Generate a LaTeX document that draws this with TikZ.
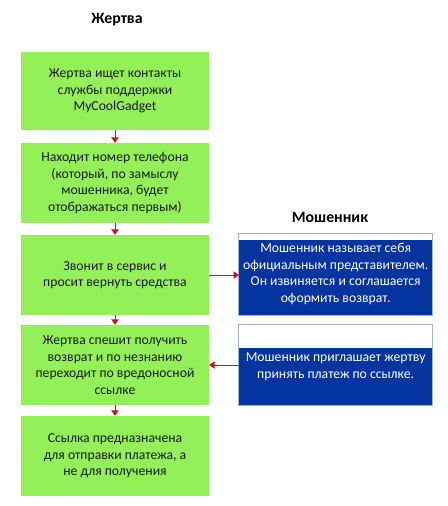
\documentclass[tikz,border=0pt]{standalone}
\usepackage{fontspec}
\setmainfont{Carlito}
\usepackage{tikz}
\usetikzlibrary{arrows.meta,positioning,calc}
\definecolor{vicgreen}{HTML}{94F058}
\definecolor{scamblue}{HTML}{0434A0}
\definecolor{scamrule}{HTML}{9DB4CF}
\definecolor{arrred}{HTML}{D0101E}

\begin{document}
\begin{tikzpicture}[font=\fontsize{11.7}{14.2}\selectfont,
  victim/.style={fill=vicgreen,text=black!90,minimum width=5.64cm,minimum height=2.4cm,
                 align=center,inner sep=2pt},
  scambox/.style={fill=scamblue,minimum width=5.79cm,inner sep=0pt},
  scamband/.style={fill=white,minimum width=5.79cm,inner sep=0pt},
  scamtxt/.style={text=white,align=center,inner sep=1pt},
  frame/.style={draw=scamrule,line width=0.8pt},
  ttl/.style={font=\fontsize{13.5}{16}\selectfont\bfseries,inner sep=1pt},
  w/.style={-{Triangle[length=1.6mm,width=2.2mm]},arrred,line width=0.6pt}]

\useasboundingbox (0,0) rectangle (13.41,-15.18);

% ---------------- victim column --------------------------------------------
\node[ttl] (tv) at (3.51,-0.6) {Жертва};

\node[victim,minimum height=2.34cm] (g1) at (3.45,-2.73)
  {Жертва ищет контакты\\ службы поддержки\\ MyCoolGadget};
\node[victim] (g2) at (3.45,-5.49)
  {Находит номер телефона\\ (который, по замыслу\\ мошенника, будет\\ отображаться первым)};
\node[victim] (g3) at (3.45,-8.25)
  {Звонит в сервис и\\ просит вернуть средства};
\node[victim] (g4) at (3.45,-10.95)
  {Жертва спешит получить\\ возврат и по незнанию\\ переходит по вредоносной\\ ссылке};
\node[victim] (g5) at (3.45,-13.68)
  {Ссылка предназначена\\ для отправки платежа, а\\ не для получения};

\foreach \a/\b in {g1/g2, g2/g3, g3/g4, g4/g5}
  \draw[w] (\a.south) -- (\b.north);

% ---------------- scammer column -------------------------------------------
\node[ttl] (ts) at (9.9,-6.51) {Мошенник};

\node[scambox,minimum height=2.25cm] (s1) at (10.07,-8.325) {};
\node[scamband,minimum height=0.18cm,anchor=south] (s1top) at (s1.north) {};
\draw[frame] (s1top.north west) rectangle (s1.south east);
\node[scamtxt] (s1txt) at (10.07,-8.22)
  {Мошенник называет себя\\ официальным представителем.\\ Он извиняется и соглашается\\ оформить возврат.};

\node[scambox,minimum height=1.71cm] (s2) at (10.07,-11.295) {};
\node[scamband,minimum height=0.69cm,anchor=south] (s2top) at (s2.north) {};
\draw[frame] (s2top.north west) rectangle (s2.south east);
\node[scamtxt] (s2txt) at (10.07,-11.0)
  {Мошенник приглашает жертву\\ принять платеж по ссылке.};

% ---------------- links between the columns --------------------------------
\draw[w] (g3.east) -- (g3.east -| s1.west);
\draw[w] (g4.east -| s2.west) -- (g4.east);

\end{tikzpicture}
\end{document}
